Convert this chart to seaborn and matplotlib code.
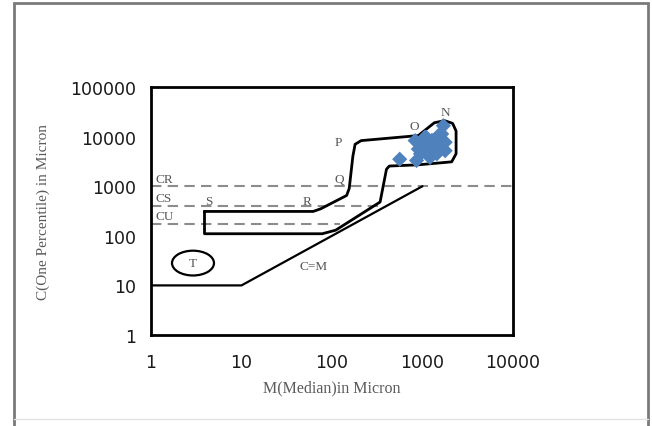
import matplotlib
matplotlib.use("Agg")
import matplotlib.pyplot as plt
from matplotlib.patches import Ellipse, Rectangle
from matplotlib.lines import Line2D
import seaborn as sns
import pandas as pd

# sample points (M = median, C = one percentile), microns
median_um = [560, 860, 830, 900, 1000, 1100, 1160, 1210, 1300, 1400, 1440, 1500, 1630, 1700, 1780, 1780, 1260, 1060, 950]
one_pct_um = [3500, 3300, 8300, 5600, 7000, 9700, 5600, 3800, 8300, 6500, 4500, 10500, 11300, 16600, 7700, 5200, 8300, 9700, 4500]

# NOPQRS field boundary
field_m = [3.9, 3.9, 78, 110, 340, 400, 430, 900, 2100, 2350, 2350, 2150, 1750, 1350, 900, 210, 180, 170, 155, 145, 75, 62, 3.9]
field_c = [310, 110, 110, 130, 480, 2200, 2550, 2700, 3100, 4500, 13000, 18500, 21000, 19000, 10500, 8300, 7000, 4000, 900, 650, 350, 310, 310]

# C=M limit line
cm_m = [1, 10, 1000]
cm_c = [10, 10, 1000]

# CR / CS / CU levels and where the dashes stop
level_names = ["CR", "CS", "CU"]
level_c = [1000, 400, 175]
level_end_m = [10000, 350, 123]

df = pd.DataFrame({"M": median_um, "C": one_pct_um})

sns.set_style("white")
fig = plt.figure(figsize=(6.52, 4.27), dpi=100)
ax = fig.add_axes([0.2316, 0.2131, 0.5552, 0.5808])

# outer frame of the picture
fig.add_artist(Rectangle((14 / 652, -0.05), 634 / 652, 1 - 4 / 427 + 0.05,
                         transform=fig.transFigure, fill=False, ec="#7a7a7a", lw=2))
fig.add_artist(Line2D([14 / 652, 648 / 652], [1 - 420 / 427] * 2,
                      transform=fig.transFigure, color="#e2e2e2", lw=1))

for end_m, c in zip(level_end_m, level_c):
    ax.plot([1, end_m], [c, c], color="#8c8c8c", lw=1.5, ls=(0, (5, 3)))

ax.plot(field_m, field_c, color="black", lw=2)
ax.plot(cm_m, cm_c, color="black", lw=1.6)

sns.scatterplot(data=df, x="M", y="C", marker="D", s=60, color="#4F81BD",
                edgecolor="none", ax=ax, zorder=3)

ax.add_patch(Ellipse((0.116, 0.29), 0.116, 0.10, transform=ax.transAxes,
                     fill=False, ec="black", lw=1.6))

ax.set_xscale("log")
ax.set_yscale("log")
ax.set_xlim(1, 10000)
ax.set_ylim(1, 100000)
ax.set_xticks([1, 10, 100, 1000, 10000])
ax.set_xticklabels(["1", "10", "100", "1000", "10000"])
ax.set_yticks([1, 10, 100, 1000, 10000, 100000])
ax.set_yticklabels(["1", "10", "100", "1000", "10000", "100000"])
ax.minorticks_off()
ax.tick_params(axis="both", width=1.2, color="#333333", labelsize=12.5,
               labelcolor="#1a1a1a", direction="out")
ax.tick_params(axis="x", length=5, pad=8)
ax.tick_params(axis="y", length=8, pad=3)
for side in ["left", "bottom", "top", "right"]:
    ax.spines[side].set_color("black")
    ax.spines[side].set_linewidth(2)

serif = "Liberation Serif"
ax.set_xlabel("M(Median)in Micron", fontsize=11.5, family=serif, color="#5a5a5a", labelpad=6)
ax.set_ylabel("C(One Percentile) in Micron", fontsize=11, family=serif, color="#5a5a5a", labelpad=14)

lbl = dict(family=serif, fontsize=9.5, color="#555555")
label_y = {"CR": 1400, "CS": 580, "CU": 250}
for name in level_names:
    ax.text(1.12, label_y[name], name, ha="left", va="center", **lbl)
ax.text(4.3, 500, "S", ha="center", va="center", **lbl)
ax.text(53, 500, "R", ha="center", va="center", **lbl)
ax.text(119, 1400, "Q", ha="center", va="center", **lbl)
ax.text(116, 7800, "P", ha="center", va="center", **lbl)
ax.text(805, 16400, "O", ha="center", va="center", **lbl)
ax.text(1770, 31000, "N", ha="center", va="center", **lbl)
ax.text(62, 24.6, "C=M", ha="center", va="center", **lbl)
ax.text(2.91, 28.3, "T", ha="center", va="center", **lbl)

fig.savefig("out.png", dpi=100)
